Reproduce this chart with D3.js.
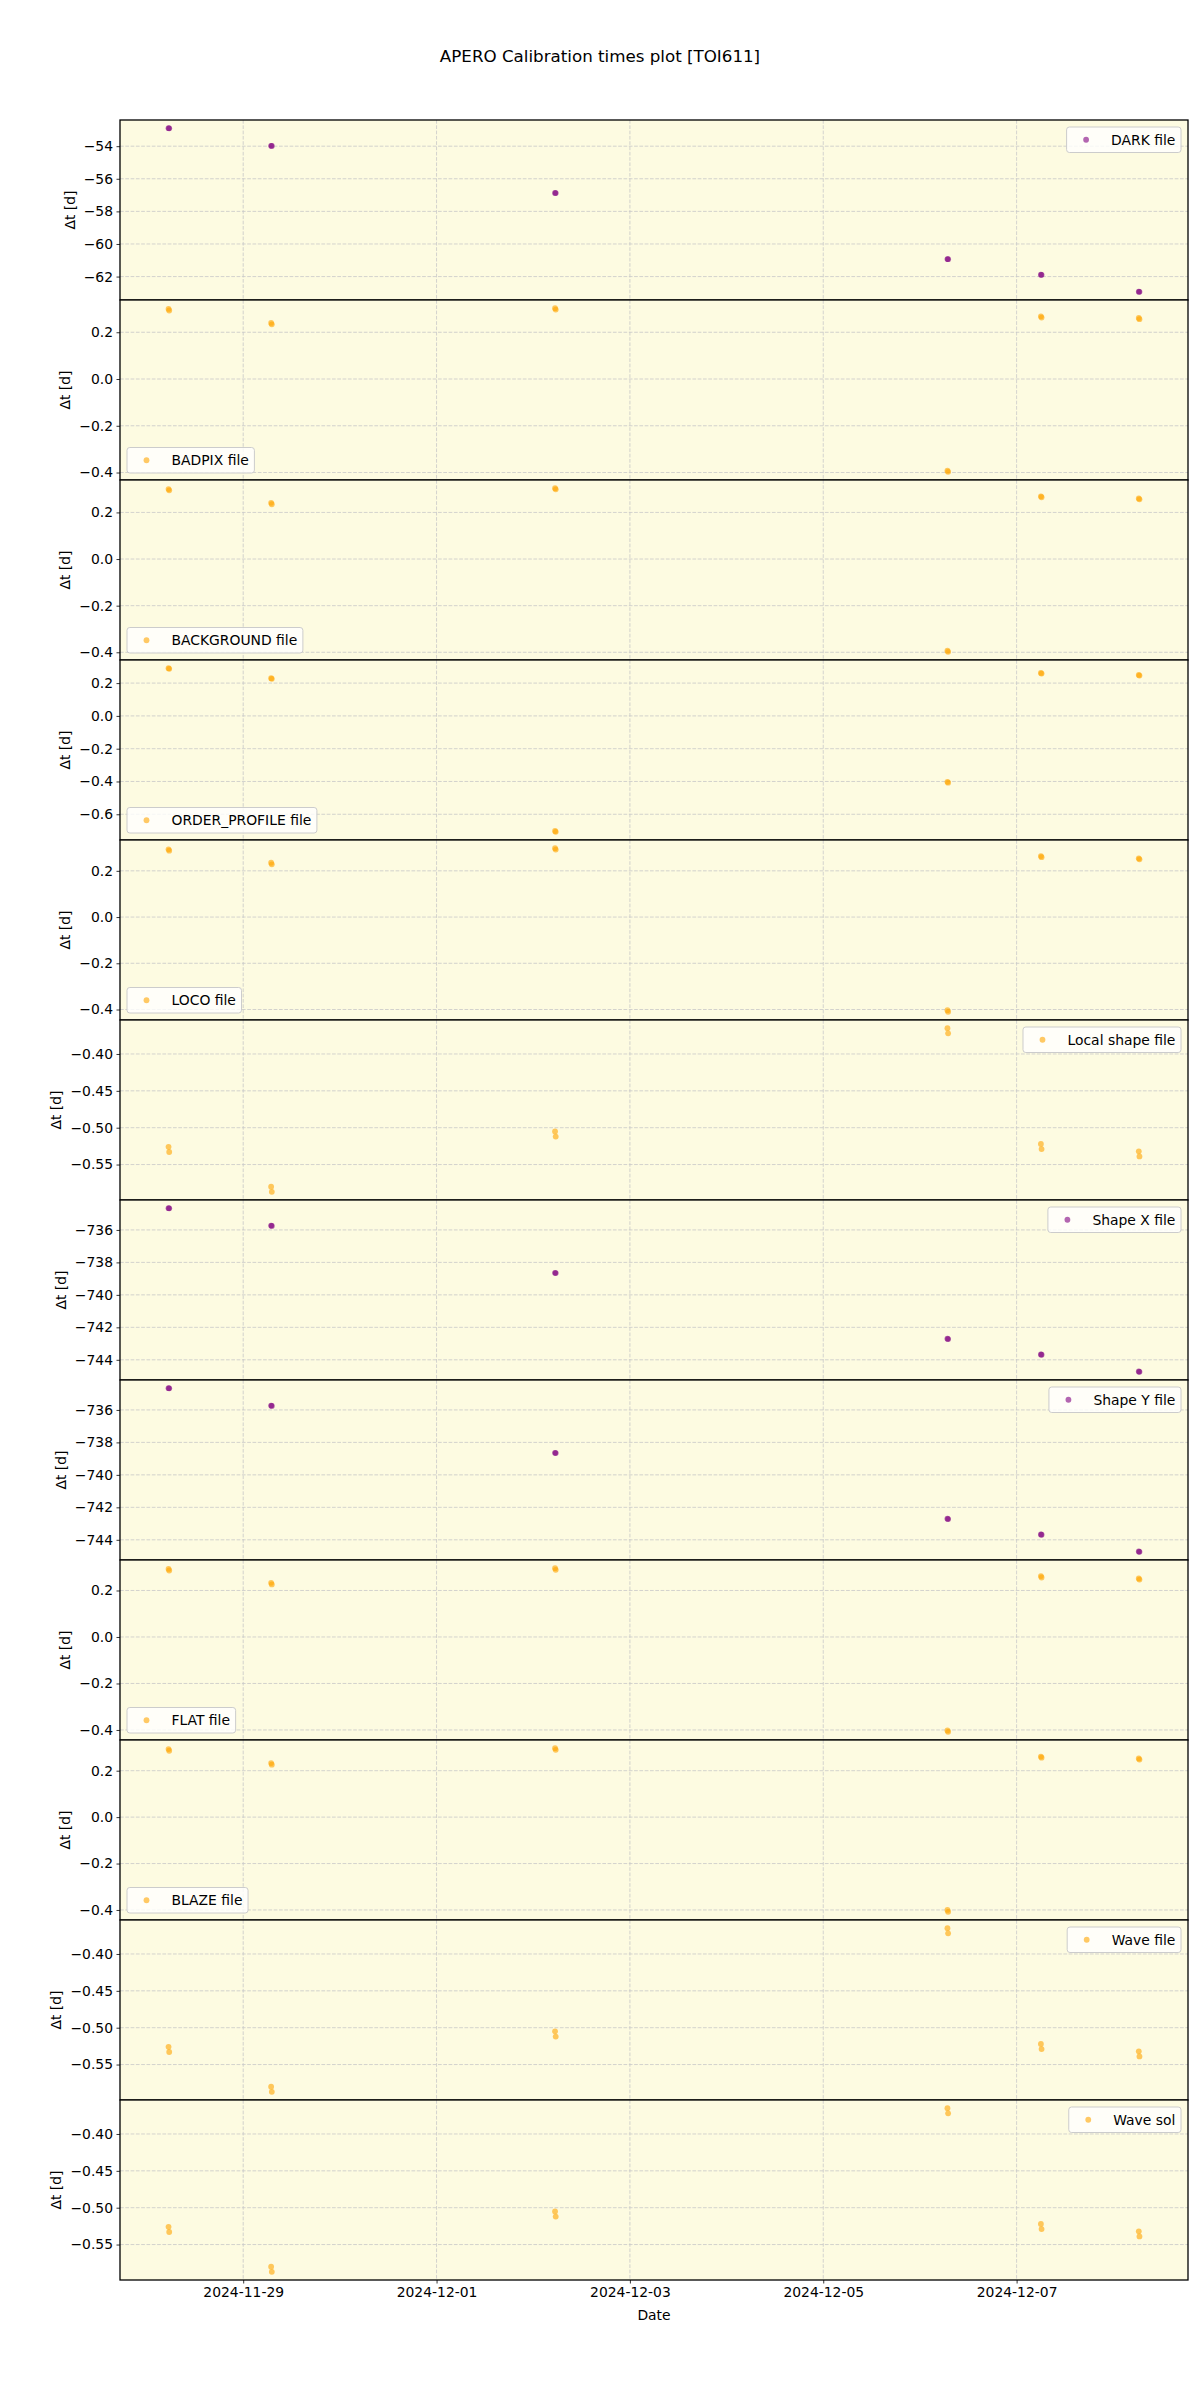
<!DOCTYPE html>
<html><head><meta charset="utf-8">
<script src="https://cdn.jsdelivr.net/npm/d3@7"></script>
<style>body{margin:0;background:#fff}svg{display:block;font-family:"DejaVu Sans",sans-serif}</style>
</head><body>
<div id="chart"></div>
<script>
// ---- data ----
const titleText = "APERO Calibration times plot [TOI611]";
const obsTimes = [
  "2024-11-28T05:28Z","2024-11-28T05:38Z",
  "2024-11-29T06:56Z","2024-11-29T07:06Z",
  "2024-12-02T05:25Z","2024-12-02T05:35Z",
  "2024-12-06T06:50Z","2024-12-06T07:00Z",
  "2024-12-07T06:02Z","2024-12-07T06:12Z",
  "2024-12-08T06:20Z","2024-12-08T06:30Z"
];
const seriesNames = ["DARK file","BADPIX file","BACKGROUND file","ORDER_PROFILE file","LOCO file","Local shape file","Shape X file","Shape Y file","FLAT file","BLAZE file","Wave file","Wave sol"];
const seriesColors = ["purple","orange","orange","orange","orange","orange","purple","purple","orange","orange","orange","orange"];
const legendLoc = ["ur","ll","ll","ll","ll","ur","ur","ur","ll","ll","ur","ur"];
const darkVals = [-52.896,-52.903,-53.976,-53.983,-56.868,-56.875,-60.928,-60.935,-61.888,-61.895,-62.928,-62.935];
const badpixVals = [0.300,0.293,0.240,0.234,0.303,0.297,-0.392,-0.397,0.268,0.263,0.261,0.256];
const backgroundVals = [0.300,0.295,0.241,0.235,0.304,0.299,-0.393,-0.398,0.269,0.265,0.260,0.256];
const orderProfileVals = [0.291,0.287,0.230,0.226,-0.702,-0.707,-0.402,-0.407,0.262,0.258,0.250,0.246];
const locoVals = [0.293,0.287,0.235,0.228,0.298,0.292,-0.403,-0.410,0.264,0.259,0.254,0.250];
const localShapeVals = [-0.526,-0.533,-0.580,-0.587,-0.505,-0.512,-0.365,-0.372,-0.522,-0.529,-0.532,-0.539];
const shapeXVals = [-734.66,-734.67,-735.73,-735.75,-738.64,-738.66,-742.70,-742.72,-743.67,-743.69,-744.72,-744.74];
const shapeYVals = [-734.66,-734.67,-735.73,-735.75,-738.64,-738.66,-742.70,-742.72,-743.67,-743.69,-744.72,-744.74];
const flatVals = [0.293,0.286,0.233,0.226,0.296,0.289,-0.402,-0.408,0.262,0.256,0.252,0.247];
const blazeVals = [0.293,0.286,0.233,0.226,0.297,0.290,-0.400,-0.408,0.261,0.256,0.253,0.248];
const waveFileVals = [-0.526,-0.533,-0.580,-0.587,-0.505,-0.512,-0.365,-0.372,-0.522,-0.529,-0.532,-0.539];
const waveSolVals = [-0.526,-0.533,-0.580,-0.587,-0.505,-0.512,-0.365,-0.372,-0.522,-0.529,-0.532,-0.539];
const allVals = [darkVals,badpixVals,backgroundVals,orderProfileVals,locoVals,localShapeVals,shapeXVals,shapeYVals,flatVals,blazeVals,waveFileVals,waveSolVals];
const ticksA = [-62,-60,-58,-56,-54];
const ticksB = [-0.4,-0.2,0.0,0.2];
const ticksC = [-0.6,-0.4,-0.2,0.0,0.2];
const ticksD = [-0.55,-0.50,-0.45,-0.40];
const ticksE = [-744,-742,-740,-738,-736];
const yTicks = [ticksA,ticksB,ticksB,ticksC,ticksB,ticksD,ticksE,ticksE,ticksB,ticksB,ticksD,ticksD];
const yDecimals = [0,1,1,1,1,2,0,0,1,1,2,2];
const xTickDates = ["2024-11-29","2024-12-01","2024-12-03","2024-12-05","2024-12-07"];
const xLabel = "Date", yLabel = "\u0394t [d]";

// ---- layout ----
const W = 1200, H = 2400;
const pLeft = 120, pRight = 1188, pTop = 120, panelH = 180;
const nPanels = seriesNames.length;
const fs = 13.9;
const svg = d3.select("#chart").append("svg").attr("width", W).attr("height", H);

const times = obsTimes.map(s => new Date(s));
const [t0, t1] = d3.extent(times);
const tpad = (t1 - t0) * 0.05;
const x = d3.scaleUtc().domain([new Date(+t0 - tpad), new Date(+t1 + tpad)]).range([pLeft, pRight]);
const xTicks = xTickDates.map(s => new Date(s + "T00:00Z"));
const minus = s => s.replace("-", "\u2212");

svg.append("text").attr("x", 600).attr("y", 62).attr("text-anchor", "middle")
  .attr("font-size", 16.7).attr("fill", "#000").text(titleText);

allVals.forEach((vals, i) => {
  const y0 = pTop + i * panelH, y1 = y0 + panelH;
  const [vmin, vmax] = d3.extent(vals);
  const m = (vmax - vmin) * 0.05;
  const y = d3.scaleLinear().domain([vmin - m, vmax + m]).range([y1, y0]);
  const g = svg.append("g");
  g.append("rect").attr("x", pLeft).attr("y", y0).attr("width", pRight - pLeft).attr("height", panelH).attr("fill", "#fdfbe1");
  g.selectAll(".vg").data(xTicks).join("line")
    .attr("x1", d => x(d)).attr("x2", d => x(d)).attr("y1", y0).attr("y2", y1)
    .attr("stroke", "#c8c8c8").attr("stroke-width", 0.8).attr("stroke-dasharray", "3.7,1.6");
  g.selectAll(".hg").data(yTicks[i]).join("line")
    .attr("x1", pLeft).attr("x2", pRight).attr("y1", d => y(d)).attr("y2", d => y(d))
    .attr("stroke", "#c8c8c8").attr("stroke-width", 0.8).attr("stroke-dasharray", "3.7,1.6");
  const ya = d3.axisLeft(y).tickValues(yTicks[i]).tickSize(3.5).tickPadding(3.5)
    .tickFormat(d => minus(d3.format("." + yDecimals[i] + "f")(d)));
  const yg = g.append("g").attr("transform", `translate(${pLeft},0)`).call(ya);
  yg.select(".domain").remove();
  yg.selectAll("text").attr("font-size", fs).attr("font-family", "DejaVu Sans").attr("fill", "#000");
  yg.selectAll("line").attr("stroke", "#000").attr("stroke-width", 0.8);
  let minX = pLeft;
  yg.selectAll("text").each(function(){ const b = this.getBBox(); minX = Math.min(minX, pLeft + b.x); });
  g.append("text").attr("transform", `translate(${minX - 9},${(y0 + y1) / 2}) rotate(-90)`)
    .attr("text-anchor", "middle").attr("font-size", fs).attr("fill", "#000").text(yLabel);
  const col = seriesColors[i];
  g.selectAll("circle.pt").data(vals).join("circle").attr("class", "pt")
    .attr("cx", (d, k) => x(times[k])).attr("cy", d => y(d)).attr("r", 2.9)
    .attr("fill", col).attr("fill-opacity", 0.6);
  g.append("rect").attr("x", pLeft).attr("y", y0).attr("width", pRight - pLeft).attr("height", panelH)
    .attr("fill", "none").attr("stroke", "#000").attr("stroke-width", 1.3);
  const lg = g.append("g");
  const txt = lg.append("text").attr("font-size", fs).attr("fill", "#000").text(seriesNames[i]);
  const tw = txt.node().getComputedTextLength();
  const bw = 5.6 + 27.8 + 11.1 + tw + 5.6, bh = 25.5;
  const bx = legendLoc[i] === "ur" ? pRight - 7 - bw : pLeft + 7;
  const by = legendLoc[i] === "ur" ? y0 + 7 : y1 - 7 - bh;
  lg.insert("rect", "text").attr("x", bx).attr("y", by).attr("width", bw).attr("height", bh).attr("rx", 2.8)
    .attr("fill", "#fff").attr("fill-opacity", 0.8).attr("stroke", "#cccccc").attr("stroke-width", 1);
  lg.append("circle").attr("cx", bx + 5.6 + 13.9).attr("cy", by + bh / 2).attr("r", 2.9).attr("fill", col).attr("fill-opacity", 0.6);
  txt.attr("x", bx + 5.6 + 27.8 + 11.1).attr("y", by + bh / 2 + 5);
});

const yb = pTop + nPanels * panelH;
const xa = d3.axisBottom(x).tickValues(xTicks).tickSize(3.5).tickPadding(3.5).tickFormat(d3.utcFormat("%Y-%m-%d"));
const xg = svg.append("g").attr("transform", `translate(0,${yb})`).call(xa);
xg.select(".domain").remove();
xg.selectAll("text").attr("font-size", fs).attr("font-family", "DejaVu Sans").attr("fill", "#000");
xg.selectAll("line").attr("stroke", "#000").attr("stroke-width", 0.8);
svg.append("text").attr("x", (pLeft + pRight) / 2).attr("y", yb + 40).attr("text-anchor", "middle")
  .attr("font-size", fs).attr("fill", "#000").text(xLabel);
</script>
</body></html>
